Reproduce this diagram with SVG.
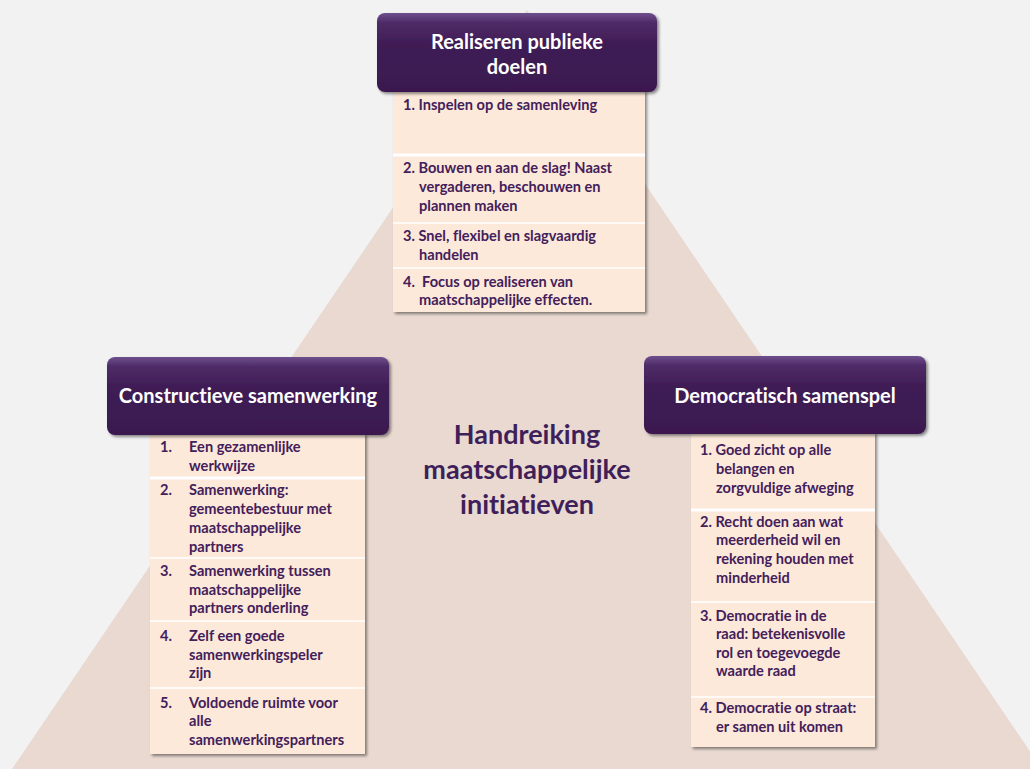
<svg xmlns="http://www.w3.org/2000/svg" width="1030" height="769" viewBox="0 0 1030 769">
<defs>
<linearGradient id="hdr" x1="0" y1="0" x2="0" y2="1">
<stop offset="0" stop-color="#6e4f8c"/>
<stop offset="0.12" stop-color="#4f2c68"/>
<stop offset="0.4" stop-color="#3f1c55"/>
<stop offset="1" stop-color="#3a1950"/>
</linearGradient>
<filter id="sh" x="-10%" y="-10%" width="125%" height="125%">
<feGaussianBlur in="SourceAlpha" stdDeviation="1.5"/>
<feOffset dx="2" dy="2" result="b"/>
<feComponentTransfer><feFuncA type="linear" slope="0.45"/></feComponentTransfer>
<feMerge><feMergeNode/><feMergeNode in="SourceGraphic"/></feMerge>
</filter>
<style>
text{font-variant-ligatures:none}
.hdr{fill:url(#hdr);filter:url(#sh)}
.cell{fill:#fde9da}
.sep{stroke:#ffffff;stroke-width:1.5}
.sep2{stroke:#ffffff;stroke-width:3}
.t{font-family:Lato,"Liberation Sans",sans-serif;font-weight:700;font-size:14.6px;fill:#43205a}
.h{font-family:Lato,"Liberation Sans",sans-serif;font-weight:700;font-size:20px;fill:#ffffff;text-anchor:middle}
.c{font-family:Lato,"Liberation Sans",sans-serif;font-weight:700;font-size:27px;fill:#3f1f5a;text-anchor:middle}
</style>
</defs>
<rect x="0" y="0" width="1030" height="769" fill="#f2f2f2"/>
<polygon points="527,10 1042,769 12,769" fill="#e9d9d1"/>

<g id="center">
<text class="c" x="527" y="444">Handreiking</text>
<text class="c" x="527" y="479">maatschappelijke</text>
<text class="c" x="527" y="514">initiatieven</text>
</g>

<g id="top">
<g filter="url(#sh)">
<rect class="cell" x="393" y="90" width="252" height="222"/>
</g>
<line class="sep2" x1="393" y1="155" x2="645" y2="155"/>
<line class="sep" x1="393" y1="223" x2="645" y2="223"/>
<line class="sep" x1="393" y1="268" x2="645" y2="268"/>
<rect class="hdr" x="377" y="13" width="280" height="79" rx="8"/>
<text class="h" x="517" y="49">Realiseren publieke</text>
<text class="h" x="517" y="74">doelen</text>
<text class="t" x="403" y="110">1. Inspelen op de samenleving</text>
<text class="t" x="403" y="173">2. Bouwen en aan de slag! Naast</text>
<text class="t" x="419" y="192">vergaderen, beschouwen en</text>
<text class="t" x="419" y="211">plannen maken</text>
<text class="t" x="403" y="241">3. Snel, flexibel en slagvaardig</text>
<text class="t" x="419" y="260">handelen</text>
<text class="t" x="403" y="287">4.&#160; Focus op realiseren van</text>
<text class="t" x="419" y="305">maatschappelijke effecten.</text>
</g>

<g id="left">
<g filter="url(#sh)">
<rect class="cell" x="150" y="433" width="215" height="321"/>
</g>
<line class="sep2" x1="150" y1="478" x2="365" y2="478"/>
<line class="sep" x1="150" y1="558" x2="365" y2="558"/>
<line class="sep" x1="150" y1="621" x2="365" y2="621"/>
<line class="sep" x1="150" y1="688" x2="365" y2="688"/>
<rect class="hdr" x="107" y="357" width="282" height="78" rx="8"/>
<text class="h" x="248" y="403">Constructieve samenwerking</text>
<text class="t" x="160" y="452">1.</text>
<text class="t" x="189" y="452">Een gezamenlijke</text>
<text class="t" x="189" y="471">werkwijze</text>
<text class="t" x="160" y="495">2.</text>
<text class="t" x="189" y="495">Samenwerking:</text>
<text class="t" x="189" y="514">gemeentebestuur met</text>
<text class="t" x="189" y="533">maatschappelijke</text>
<text class="t" x="189" y="552">partners</text>
<text class="t" x="160" y="576">3.</text>
<text class="t" x="189" y="576">Samenwerking tussen</text>
<text class="t" x="189" y="595">maatschappelijke</text>
<text class="t" x="189" y="613">partners onderling</text>
<text class="t" x="160" y="641">4.</text>
<text class="t" x="189" y="641">Zelf een goede</text>
<text class="t" x="189" y="660">samenwerkingspeler</text>
<text class="t" x="189" y="678">zijn</text>
<text class="t" x="160" y="708">5.</text>
<text class="t" x="189" y="708">Voldoende ruimte voor</text>
<text class="t" x="189" y="726">alle</text>
<text class="t" x="189" y="745">samenwerkingspartners</text>
</g>

<g id="right">
<g filter="url(#sh)">
<rect class="cell" x="691" y="432" width="184" height="315"/>
</g>
<line class="sep2" x1="691" y1="510" x2="875" y2="510"/>
<line class="sep" x1="691" y1="602" x2="875" y2="602"/>
<line class="sep" x1="691" y1="697" x2="875" y2="697"/>
<rect class="hdr" x="644" y="356" width="282" height="78" rx="8"/>
<text class="h" x="785" y="403">Democratisch samenspel</text>
<text class="t" x="700" y="455">1. Goed zicht op alle</text>
<text class="t" x="716" y="474">belangen en</text>
<text class="t" x="716" y="493">zorgvuldige afweging</text>
<text class="t" x="700" y="527">2. Recht doen aan wat</text>
<text class="t" x="716" y="545">meerderheid wil en</text>
<text class="t" x="716" y="564">rekening houden met</text>
<text class="t" x="716" y="583">minderheid</text>
<text class="t" x="700" y="621">3. Democratie in de</text>
<text class="t" x="716" y="639">raad: betekenisvolle</text>
<text class="t" x="716" y="658">rol en toegevoegde</text>
<text class="t" x="716" y="676">waarde raad</text>
<text class="t" x="700" y="713">4. Democratie op straat:</text>
<text class="t" x="716" y="732">er samen uit komen</text>
</g>
</svg>
